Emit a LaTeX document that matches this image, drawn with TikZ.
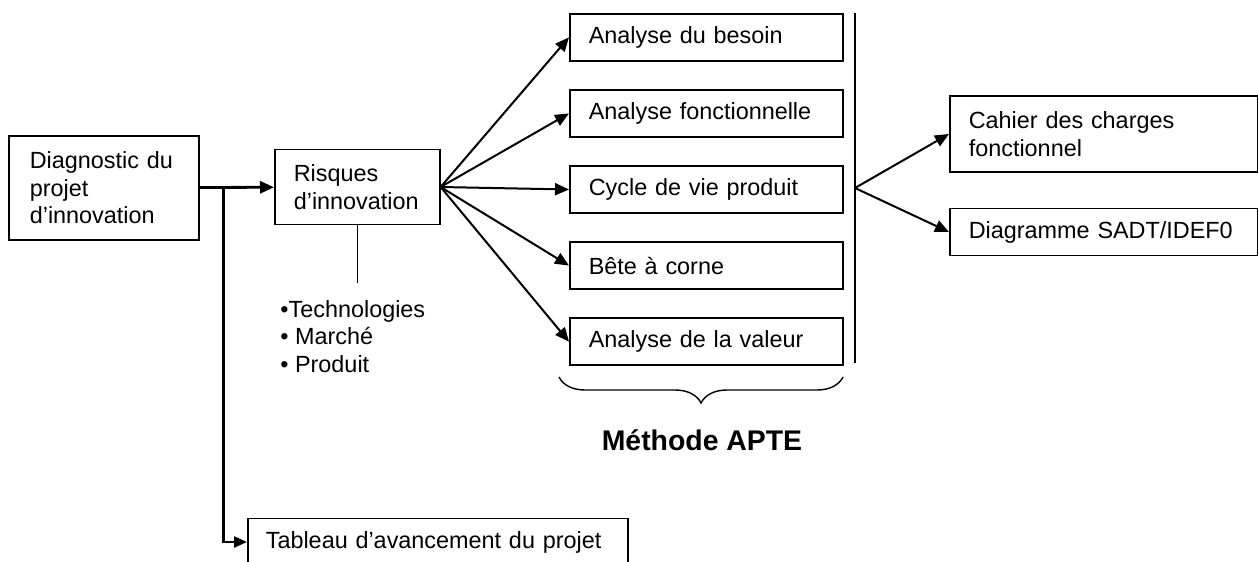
\documentclass[tikz,border=0pt]{standalone}
\usepackage{fontspec}
\setmainfont{Liberation Sans}
\usetikzlibrary{arrows.meta,positioning,calc,decorations.pathreplacing}
\tikzset{
  box/.style={draw, line width=0.8pt, align=left, inner xsep=9.5pt, inner ysep=2pt,
              text width=#1, minimum height=23.5pt, font=\fontsize{11.7pt}{13.8pt}\selectfont},
  box/.default=117.5pt,
  node distance=13.75pt,
  link/.style={-{Triangle[length=7pt,width=6pt]}, line width=1pt},
  feed/.style={-{Triangle[length=7pt,width=6pt]}, line width=1.4pt},
  lst/.style={align=left, inner xsep=0pt, inner ysep=8.5pt, font=\fontsize{11.7pt}{13.75pt}\selectfont},
}

\begin{document}
\begin{tikzpicture}[x=0.5pt,y=-0.5pt]
  \useasboundingbox (0,0) rectangle (1258,562);
  \node[box=74pt, inner xsep=10.5pt, minimum height=52pt, anchor=north west] (diag) at (8,135) {Diagnostic du\\projet\\d’innovation};
  \node[box=63.5pt, minimum height=37.5pt, anchor=west] (risk) at (274,187) {Risques\\d’innovation};
  \node[lst, anchor=north west] (bul) at (280,283) {•Technologies\\• Marché\\• Produit};
  \node[box, anchor=north west] (besoin) at (569,13) {Analyse du besoin};
  \node[box, below=of besoin] (fonct) {Analyse fonctionnelle};
  \node[box, below=of fonct] (cycle) {Cycle de vie produit};
  \node[box, below=of cycle] (bete) {Bête à corne};
  \node[box, below=of bete] (valeur) {Analyse de la valeur};
  \node[box=135pt, minimum height=38pt, anchor=west] (cdc) at (949,134) {Cahier des charges\\fonctionnel};
  \node[box=135pt, anchor=west] (sadt) at (949,232) {Diagramme SADT/IDEF0};
  \node[box=172pt, inner xsep=9pt, anchor=west] (tab) at (247,542) {Tableau d’avancement du projet};
  \node[font=\fontsize{14.2pt}{17pt}\selectfont\bfseries] (apte) at (702,440) {Méthode APTE};

  \coordinate (split) at ($(diag.east)!0.32!(risk.west)$);
  \coordinate (bartop) at (855,13);
  \coordinate (barbot) at (855,363);
  \coordinate (barmid) at (855,188);
  \coordinate (brl) at (559,377);
  \coordinate (brr) at (843,377);

  \draw[feed] (diag) -- (risk);
  \draw[-{Triangle[length=6.5pt,width=5.5pt]}, line width=1.2pt] (split) |- (tab);
  \draw[line width=0.6pt] (risk.south) -- (risk.south |- bul.north);
  \foreach \t in {besoin,fonct,cycle,bete,valeur}
    \draw[link] (risk.east) -- (\t.west);
  \draw[line width=0.75pt] (bartop) -- (barbot);
  \draw[link] (barmid) -- (cdc.west);
  \draw[link] (barmid) -- (sadt.west);
  \draw[decorate, decoration={brace, amplitude=13pt, mirror}, line width=0.7pt] (brl) -- (brr);
\end{tikzpicture}
\end{document}
